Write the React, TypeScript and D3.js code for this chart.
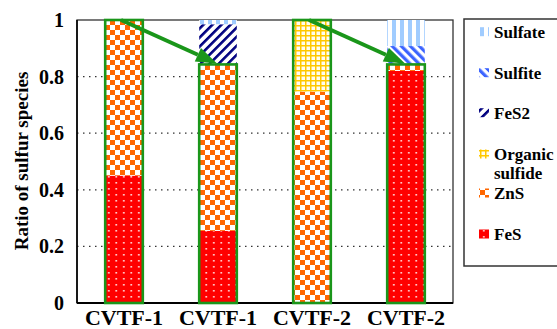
import React from "react";
import * as d3 from "d3";

const categories = ["CVTF-1", "CVTF-1", "CVTF-2", "CVTF-2"];
const fes = [0.45, 0.255, 0, 0.82];
const zns = [0.55, 0.588, 0.747, 0.023];
const organic = [0, 0, 0.253, 0];
const fes2 = [0, 0.142, 0, 0];
const sulfite = [0, 0, 0, 0.065];
const sulfate = [0, 0.015, 0, 0.092];
const yTicks = [0, 0.2, 0.4, 0.6, 0.8, 1];
const gridTicks = [0.2, 0.4, 0.6, 0.8];
const legendNames = ["Sulfate", "Sulfite", "FeS2", "Organic\nsulfide", "ZnS", "FeS"];

const W = 557;
const H = 329;
const M = { left: 77, right: 453, top: 20, bottom: 303 };
const GREEN = "#1a961a";
const FONT = "'Liberation Serif'";

const stackOrder = [
  { key: "FeS", values: fes, fill: "url(#pFeS)" },
  { key: "ZnS", values: zns, fill: "url(#pZnS)" },
  { key: "Organic", values: organic, fill: "url(#pOrg)" },
  { key: "FeS2", values: fes2, fill: "url(#pFeS2)" },
  { key: "Sulfite", values: sulfite, fill: "url(#pSulfite)" },
  { key: "Sulfate", values: sulfate, fill: "url(#pSulfate)" },
];
const legendFills = ["url(#pSulfate)", "url(#pSulfite)", "url(#pFeS2)", "url(#pOrg)", "url(#pZnS)", "url(#pFeS)"];
const legendY = [31.7, 72.7, 112.7, 154, 193, 234];

const txt = { fontFamily: FONT, fontWeight: 700 };

export default function App() {
  const x = d3.scaleBand<number>().domain(d3.range(categories.length)).range([M.left, M.right]).paddingInner(0.6).paddingOuter(0.3);
  const y = d3.scaleLinear().domain([0, 1]).range([M.bottom, M.top]);
  const bw = x.bandwidth();

  const rows = categories.map((_, i) => {
    const obj: any = { i };
    stackOrder.forEach((s) => (obj[s.key] = s.values[i]));
    return obj;
  });
  const stack = d3.stack<any>().keys(stackOrder.map((s) => s.key))(rows);

  const outlineTop = categories.map((_, i) => fes[i] + zns[i] + organic[i]);

  const arrows = [0, 2].map((i) => {
    const x1 = (x(i) as number) + bw / 2 - 3;
    const y1 = y(outlineTop[i]);
    const x2 = (x(i + 1) as number) + bw / 2 - 1;
    const y2 = y(outlineTop[i + 1]) - 1;
    const ang = Math.atan2(y2 - y1, x2 - x1);
    const hl = 21;
    const hw = 7.5;
    const bx = x2 - hl * Math.cos(ang);
    const by = y2 - hl * Math.sin(ang);
    const px = -Math.sin(ang) * hw;
    const py = Math.cos(ang) * hw;
    return { x1, y1, bx, by, x2, y2, px, py };
  });

  return (
    <svg width={W} height={H} style={{ position: "absolute", left: 0, top: 0, background: "#fff" }}>
      <defs>
        <pattern id="pFeS" patternUnits="userSpaceOnUse" width={7.5} height={6}>
          <rect width={7.5} height={6} fill="#ff0000" />
          <rect x={3} y={2} width={1.6} height={1.6} fill="#ffe4e4" />
        </pattern>
        <pattern id="pZnS" patternUnits="userSpaceOnUse" width={10} height={10}>
          <rect width={10} height={10} fill="#ffffff" />
          <rect x={0} y={0} width={5} height={5} fill="#ff6600" />
          <rect x={5} y={5} width={5} height={5} fill="#ff6600" />
        </pattern>
        <pattern id="pOrg" patternUnits="userSpaceOnUse" width={5} height={5}>
          <rect width={5} height={5} fill="#fffdf0" />
          <rect x={0} y={0} width={1.5} height={5} fill="#ffc800" />
          <rect x={0} y={0} width={5} height={1.5} fill="#ffc800" />
        </pattern>
        <pattern id="pFeS2" patternUnits="userSpaceOnUse" width={6.4} height={10} patternTransform="rotate(45)">
          <rect width={6.4} height={10} fill="#ffffff" />
          <rect x={0} y={0} width={2.6} height={10} fill="#000080" />
        </pattern>
        <pattern id="pSulfite" patternUnits="userSpaceOnUse" width={6.4} height={10} patternTransform="rotate(-45)">
          <rect width={6.4} height={10} fill="#ffffff" />
          <rect x={0} y={0} width={3.2} height={10} fill="#3c64ff" />
        </pattern>
        <pattern id="pSulfate" patternUnits="userSpaceOnUse" width={8} height={10}>
          <rect width={8} height={10} fill="#ffffff" />
          <rect x={0} y={0} width={4} height={10} fill="#a0ccff" />
        </pattern>
      </defs>

      {gridTicks.map((t) => (
        <line key={t} x1={M.left} x2={M.right} y1={y(t)} y2={y(t)} stroke="#333" strokeWidth={1.2} strokeDasharray="1.5,4.5" />
      ))}

      <rect x={M.left} y={M.top} width={M.right - M.left} height={M.bottom - M.top} fill="none" stroke="#333" strokeWidth={1.3} />
      <line x1={M.left} x2={M.right} y1={M.bottom} y2={M.bottom} stroke="#000" strokeWidth={2} />
      <line x1={M.left} x2={M.left} y1={M.top} y2={M.bottom} stroke="#000" strokeWidth={1.6} />

      {stack.map((layer, li) => (
        <g key={layer.key} fill={stackOrder[li].fill}>
          {layer.map((d, i) =>
            d[1] - d[0] > 0 ? (
              <rect key={i} x={x(i)} y={y(d[1])} width={bw} height={y(d[0]) - y(d[1])} />
            ) : null
          )}
        </g>
      ))}

      {outlineTop.map((v, i) => (
        <rect key={i} x={x(i)} y={y(v)} width={bw} height={y(0) - y(v)} fill="none" stroke={GREEN} strokeWidth={2.6} />
      ))}

      {arrows.map((a, k) => (
        <g key={k}>
          <line x1={a.x1} y1={a.y1} x2={a.bx} y2={a.by} stroke={GREEN} strokeWidth={4} />
          <polygon points={`${a.x2},${a.y2} ${a.bx + a.px},${a.by + a.py} ${a.bx - a.px},${a.by - a.py}`} fill={GREEN} />
        </g>
      ))}

      {yTicks.map((t) => (
        <text key={t} x={64} y={y(t) + 7} textAnchor="end" fontSize={20} style={txt} fill="#000">
          {d3.format("~g")(t)}
        </text>
      ))}

      {categories.map((c, i) => (
        <text key={i} x={(x(i) as number) + bw / 2} y={325} textAnchor="middle" fontSize={22} style={txt} fill="#000">
          {c}
        </text>
      ))}

      <text transform={`translate(28,161) rotate(-90)`} textAnchor="middle" fontSize={19} style={txt} fill="#000">
        Ratio of sulfur species
      </text>

      <rect x={464} y={19} width={140} height={247} fill="#fff" stroke="#333" strokeWidth={1.5} />
      {legendNames.map((n, i) => {
        const lines = n.split("\n");
        const cy = legendY[i];
        return (
          <g key={n}>
            <rect x={479} y={cy - 4.5} width={10} height={9} fill={legendFills[i]} />
            {lines.map((ln, j) => (
              <text key={j} x={494} y={cy + 6 + j * 19} fontSize={17} style={txt} fill="#000">
                {ln}
              </text>
            ))}
          </g>
        );
      })}
    </svg>
  );
}
